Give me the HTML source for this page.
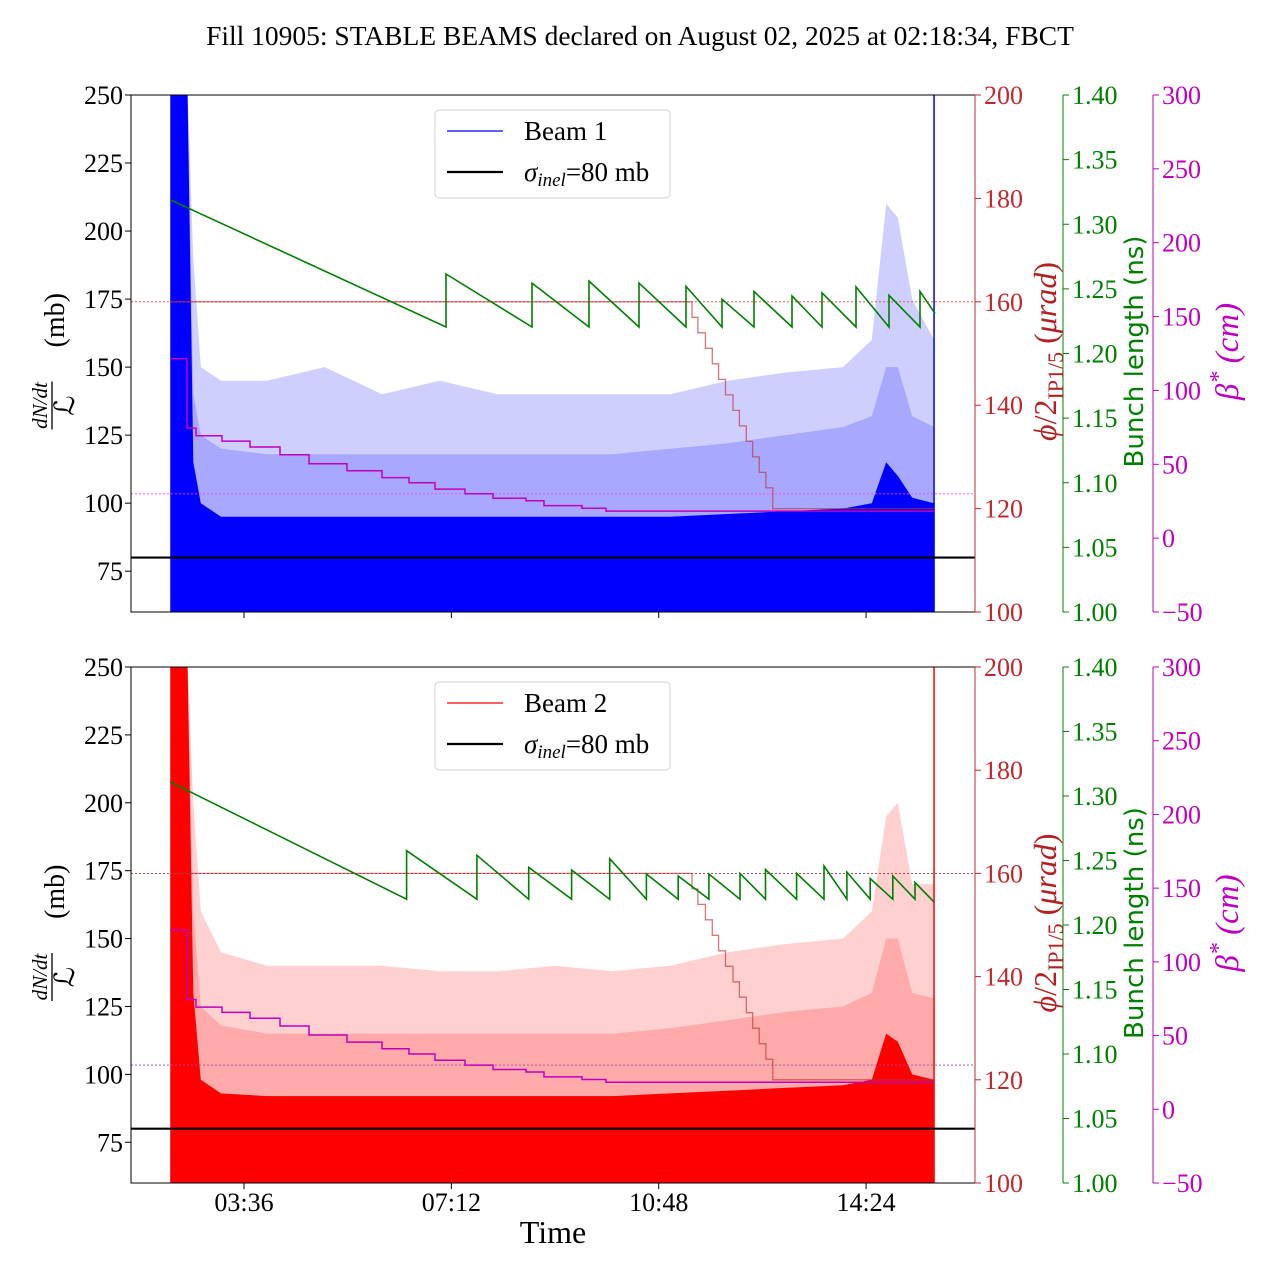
<!DOCTYPE html>
<html><head><meta charset="utf-8">
<style>
html,body{margin:0;padding:0;background:#fff;}
svg{display:block;font-family:"Liberation Serif","DejaVu Serif",serif;}
</style></head>
<body>
<svg id="chart" width="1280" height="1280" viewBox="0 0 1280 1280" xmlns="http://www.w3.org/2000/svg">
<rect width="1280" height="1280" fill="#fff"/>
<text x="640" y="45" font-size="27.5" text-anchor="middle">Fill 10905: STABLE BEAMS declared on August 02, 2025 at 02:18:34, FBCT</text>
</svg>
<script>
// ---- data (time in decimal hours) ----
const xTickHours = [3.6, 7.2, 10.8, 14.4];
const xTickLabels = ["03:36", "07:12", "10:48", "14:24"];
const leftTicks = [75, 100, 125, 150, 175, 200, 225, 250];
const redTicks = [100, 120, 140, 160, 180, 200];
const greenTicks = [1.00, 1.05, 1.10, 1.15, 1.20, 1.25, 1.30, 1.35, 1.40];
const magTicks = [-50, 0, 50, 100, 150, 200, 250, 300];

const noiseT = [2.32, 2.62, 2.72, 2.85, 3.2, 4, 5, 6, 7, 8, 9, 10, 11, 12, 13, 14, 14.5, 14.75, 14.95, 15.2, 15.58];
const beam1Peak = [250, 250, 190, 150, 145, 145, 150, 140, 145, 140, 140, 140, 140, 145, 148, 150, 160, 210, 205, 175, 160];
const beam1Dense = [250, 250, 140, 125, 120, 118, 118, 118, 118, 118, 118, 118, 120, 122, 125, 128, 132, 150, 150, 132, 128];
const beam1Dark = [250, 250, 115, 100, 95, 95, 95, 95, 95, 95, 95, 95, 95, 96, 97, 98, 100, 115, 110, 102, 100];
const beam2Peak = [250, 250, 200, 160, 145, 140, 140, 140, 138, 138, 140, 138, 140, 145, 148, 150, 160, 195, 200, 170, 170];
const beam2Dense = [250, 250, 160, 125, 118, 115, 115, 115, 115, 115, 115, 115, 117, 120, 123, 125, 130, 150, 150, 130, 128];
const beam2Dark = [250, 250, 130, 98, 93, 92, 92, 92, 92, 92, 92, 92, 93, 94, 95, 96, 98, 115, 112, 100, 98];
const sigmaInel = 80;

const blStartT = 2.315;
const blEndT1 = 15.596;
const blStart1 = 1.319;
const blJumpT1 = [7.107, 8.6, 9.59, 10.458, 11.274, 11.899, 12.454, 13.114, 13.635, 14.225, 14.798, 15.336];
const blPeak1 = [1.2615, 1.2545, 1.256, 1.2545, 1.252, 1.242, 1.248, 1.2445, 1.247, 1.2515, 1.245, 1.248];
const blLow1 = [1.2205, 1.2205, 1.2205, 1.2205, 1.2205, 1.2205, 1.2205, 1.2205, 1.2205, 1.2205, 1.2205, 1.2205];
const blEnd1 = 1.231;
const blEndT2 = 15.576;
const blStart2 = 1.311;
const blJumpT2 = [6.423, 7.643, 8.543, 9.288, 9.949, 10.586, 11.138, 11.671, 12.211, 12.654, 13.194, 13.670, 14.067, 14.472, 14.864, 15.249];
const blPeak2 = [1.2576, 1.254, 1.2447, 1.2426, 1.2514, 1.2395, 1.238, 1.2395, 1.24, 1.243, 1.24, 1.2457, 1.241, 1.236, 1.238, 1.233];
const blLow2 = [1.22, 1.22, 1.22, 1.22, 1.22, 1.22, 1.22, 1.22, 1.22, 1.22, 1.22, 1.22, 1.22, 1.22, 1.22, 1.22];
const blEnd2 = 1.218;

const phiT = [2.315, 11.378, 11.48, 11.61, 11.73, 11.84, 11.96, 12.09, 12.2, 12.32, 12.43, 12.545, 12.66, 12.78];
const phiV = [160, 157, 154, 151, 148, 145, 142, 139, 136, 133, 130, 127, 124, 120];
const phiRef = 160;

const betaT = [2.315, 2.61, 2.767, 3.218, 3.704, 4.225, 4.728, 5.388, 5.996, 6.465, 6.916, 7.437, 7.923, 8.496, 8.808, 9.468, 9.885];
const betaV = [121.5, 74.5, 69.3, 65.7, 61.7, 56.5, 50.4, 45.6, 41, 37.5, 33.2, 30, 27, 25.3, 22, 20.2, 18.3];
const betaRef = 30;
const endT = 15.58;

// ---- layout ----
const NS = "http://www.w3.org/2000/svg";
const svg = document.getElementById("chart");
const X0 = 131, X1 = 975;
function xs(h) { return 244 + (h - 3.6) * 57.6; }
function mk(tag, attrs, parent) {
  const e = document.createElementNS(NS, tag);
  for (const k in attrs) e.setAttribute(k, attrs[k]);
  (parent || svg).appendChild(e);
  return e;
}
const RED = "#c0282d", GREEN = "#008000", MAG = "#bf00bf";
const TF = 26;

function panel(idx, top, bot, beamName, peak, dense, dark, lightCol, darkCol, blJ, blP, blL, blS, blE, blET) {
  const H = bot - top;
  const yl = v => bot - (v - 60) / 190 * H;
  const yr = v => bot - (v - 100) / 100 * H;
  const yg = v => bot - (v - 1.0) / 0.4 * H;
  const ym = v => bot - (v + 50) / 350 * H;
  const g = mk("g", {});
  
  
  const cid = "clip" + idx;
  const cp = mk("clipPath", { id: cid }, g);
  mk("rect", { x: X0, y: top, width: X1 - X0, height: H }, cp);
  const plot = mk("g", { "clip-path": "url(#" + cid + ")" }, g);

  function area(arr, col, op, name) {
    let d = "M" + xs(noiseT[0]) + "," + yl(60);
    for (let i = 0; i < noiseT.length; i++) d += " L" + xs(noiseT[i]).toFixed(1) + "," + yl(arr[i]).toFixed(1);
    d += " L" + xs(noiseT[noiseT.length - 1]) + "," + yl(60) + " Z";
    const p = mk("path", { d: d, fill: col, "fill-opacity": op }, plot);
    
    
  }
  area(peak, lightCol, 0.55, 'noise-peak-band');
  area(dense, lightCol, 1, 'noise-dense-band');
  area(dark, darkCol, 1, 'noise-core-band');
  const endLine = mk("line", { x1: xs(endT), x2: xs(endT), y1: top, y2: bot, stroke: darkCol, "stroke-width": 1.5 }, plot);
  
  

  const r1 = mk("line", { x1: X0, x2: X1, y1: yr(phiRef), y2: yr(phiRef), stroke: idx ? "#aa3333" : "#e04040", "stroke-width": 0.9, "stroke-dasharray": "2,2" }, plot);
  
  
  const r2 = mk("line", { x1: X0, x2: X1, y1: ym(betaRef), y2: ym(betaRef), stroke: idx ? "#b040b0" : "#ff40ff", "stroke-width": 0.9, "stroke-dasharray": "2,2" }, plot);
  
  

  const sl = mk("line", { x1: X0, x2: X1, y1: yl(sigmaInel), y2: yl(sigmaInel), stroke: "#000", "stroke-width": 2.2 }, plot);
  
  

  let d = "M" + xs(phiT[0]) + "," + yr(phiV[0]);
  for (let i = 1; i < phiT.length; i++) d += " H" + xs(phiT[i]).toFixed(1) + " V" + yr(phiV[i]).toFixed(1);
  d += " H" + xs(endT);
  const pp = mk("path", { d: d, fill: "none", stroke: "#c03030", "stroke-opacity": 0.65, "stroke-width": 1.3 }, plot);
  
  

  d = "M" + xs(betaT[0]) + "," + ym(betaV[0]);
  for (let i = 1; i < betaT.length; i++) d += " H" + xs(betaT[i]).toFixed(1) + " V" + ym(betaV[i]).toFixed(1);
  d += " H" + xs(endT);
  const bp = mk("path", { d: d, fill: "none", stroke: MAG, "stroke-width": 1.5 }, plot);
  
  

  d = "M" + xs(blStartT) + "," + yg(blS).toFixed(1);
  for (let i = 0; i < blJ.length; i++) {
    d += " L" + xs(blJ[i]).toFixed(1) + "," + yg(blL[i]).toFixed(1);
    d += " L" + xs(blJ[i]).toFixed(1) + "," + yg(blP[i]).toFixed(1);
  }
  d += " L" + xs(blET).toFixed(1) + "," + yg(blE).toFixed(1);
  const gp = mk("path", { d: d, fill: "none", stroke: GREEN, "stroke-width": 1.6 }, plot);
  
  

  mk("rect", { x: X0, y: top, width: X1 - X0, height: H, fill: "none", stroke: "#000", "stroke-width": 1 }, g);

  leftTicks.forEach(v => {
    const y = yl(v);
    mk("line", { x1: X0 - 6, x2: X0, y1: y, y2: y, stroke: "#000" }, g);
    const t = mk("text", { x: X0 - 8, y: y + 9, "font-size": TF, "text-anchor": "end" }, g);
    t.textContent = v;
    
    
  });
  xTickHours.forEach((h, i) => {
    mk("line", { x1: xs(h), x2: xs(h), y1: bot, y2: bot + 6, stroke: "#000" }, g);
    if (idx === 1) {
      const t = mk("text", { x: xs(h), y: bot + 28, "font-size": TF, "text-anchor": "middle" }, g);
      t.textContent = xTickLabels[i];
      
      
    }
  });
  function raxis(xp, ticks, sc, col, fmt, nm) {
    mk("line", { x1: xp, x2: xp, y1: top, y2: bot, stroke: col, "stroke-width": 1 }, g);
    ticks.forEach(v => {
      const y = sc(v);
      mk("line", { x1: xp, x2: xp + 6, y1: y, y2: y, stroke: col }, g);
      const t = mk("text", { x: xp + 9, y: y + 9, "font-size": TF, fill: col }, g);
      t.textContent = fmt(v);
      
      
    });
  }
  raxis(975, redTicks, yr, RED, v => v, 'phi-tick-label');
  raxis(1063, greenTicks, yg, GREEN, v => v.toFixed(2), 'bunch-length-tick-label');
  raxis(1153, magTicks, ym, MAG, v => (v < 0 ? "\u2212" + (-v) : v), 'beta-tick-label');

  const cy = (top + bot) / 2 - 2;
  const ll = mk("g", { transform: "translate(52," + cy + ") rotate(-90)" }, g);
  
  
  let t = mk("text", { x: -54, y: -5, "font-size": 21, "font-style": "italic", "text-anchor": "middle" }, ll);
  t.textContent = "dN/dt";
  mk("line", { x1: -78, x2: -30, y1: 0, y2: 0, stroke: "#000", "stroke-width": 1.3 }, ll);
  t = mk("text", { x: -54, y: 22, "font-size": 28, "text-anchor": "middle" }, ll);
  t.textContent = "\u2112";
  t = mk("text", { x: 4, y: 12, "font-size": 28 }, ll);
  t.textContent = "(mb)";

  const rl = mk("text", { transform: "translate(1056," + (cy) + ") rotate(-90)", "font-size": 32, fill: "#b22222", "text-anchor": "middle" }, g);
  
  
  rl.innerHTML = '<tspan font-style="italic">\u03d5</tspan>/2<tspan font-size="22" dy="7">IP1/5</tspan><tspan dy="-7"> (</tspan><tspan font-style="italic">\u03bcrad</tspan>)';

  const gl = mk("text", { transform: "translate(1143," + cy + ") rotate(-90)", "font-size": 26, fill: GREEN, "text-anchor": "middle", "font-family": "DejaVu Sans, Liberation Sans, sans-serif", textLength: 232, lengthAdjust: "spacingAndGlyphs" }, g);
  gl.textContent = "Bunch length (ns)";
  
  

  const ml = mk("text", { transform: "translate(1238," + cy + ") rotate(-90)", "font-size": 33, fill: MAG, "text-anchor": "middle", "font-style": "italic" }, g);
  ml.innerHTML = '\u03b2<tspan dy="-12" font-size="24">*</tspan><tspan dy="12"> (cm)</tspan>';
  
  

  const lg = mk("g", {}, g);
  
  
  mk("rect", { x: 435, y: top + 15, width: 235, height: 88, rx: 4, fill: "#fff", "fill-opacity": 0.85, stroke: "#d0d0d0" }, lg);
  mk("line", { x1: 447, x2: 503, y1: top + 36, y2: top + 36, stroke: darkCol, "stroke-width": 1.3 }, lg);
  t = mk("text", { x: 524, y: top + 45, "font-size": 27 }, lg);
  t.textContent = beamName;
  
  
  mk("line", { x1: 447, x2: 503, y1: top + 77, y2: top + 77, stroke: "#000", "stroke-width": 2.2 }, lg);
  t = mk("text", { x: 524, y: top + 86, "font-size": 27 }, lg);
  t.innerHTML = '<tspan font-style="italic">\u03c3</tspan><tspan font-style="italic" font-size="19" dy="5">inel</tspan><tspan dy="-5">=80 mb</tspan>';
  
  
}

panel(0, 95, 612, "Beam 1", beam1Peak, beam1Dense, beam1Dark, "#a8a8ff", "#0000ff", blJumpT1, blPeak1, blLow1, blStart1, blEnd1, blEndT1);
panel(1, 667, 1183, "Beam 2", beam2Peak, beam2Dense, beam2Dark, "#ffaaaa", "#ff0000", blJumpT2, blPeak2, blLow2, blStart2, blEnd2, blEndT2);

const xt = mk("text", { x: 553, y: 1243, "font-size": 32, "text-anchor": "middle" });
xt.textContent = "Time";


</script>
</body></html>
